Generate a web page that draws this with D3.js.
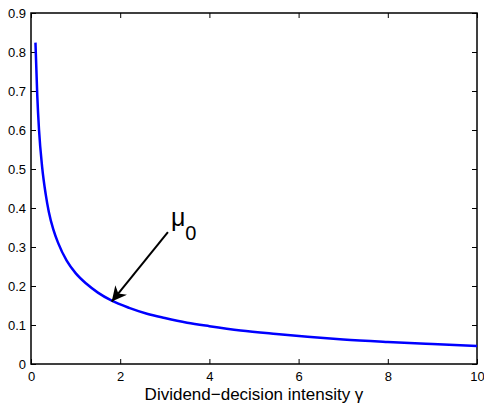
<!DOCTYPE html>
<html>
<head>
<meta charset="utf-8">
<script src="https://cdn.jsdelivr.net/npm/d3@7"></script>
<style>
    body { margin: 0; background: #fff; }
    text { font-family: "Liberation Sans", Arial, sans-serif; fill: #000; }
</style>
</head>
<body>
<div id="chart"></div>
<script>
// values
const gammaValues = [0.1, 0.14, 0.18, 0.25, 0.33, 0.4, 0.5, 0.61, 0.8, 1.0, 1.25, 1.5, 1.8, 2.2, 2.6, 3, 3.5, 4, 4.7, 5.5, 6.2, 7, 8, 9, 10];
const muValues = [0.824, 0.69, 0.6, 0.505, 0.435, 0.39, 0.345, 0.31, 0.265, 0.233, 0.205, 0.183, 0.163, 0.144, 0.129, 0.118, 0.106, 0.097, 0.086, 0.077, 0.07, 0.063, 0.0565, 0.051, 0.046];
const xTicks = [0, 2, 4, 6, 8, 10];
const yTicks = [0, 0.1, 0.2, 0.3, 0.4, 0.5, 0.6, 0.7, 0.8, 0.9];
const arrowFrom = [3.07, 0.338];
const arrowTo = [1.81, 0.16];

const width = 484, height = 404;
const margin = {top: 13, right: 7, bottom: 40, left: 31};

const svg = d3.select("#chart").append("svg")
    .attr("width", width)
    .attr("height", height);

const x = d3.scaleLinear().domain([0, 10]).range([margin.left, width - margin.right]);
const y = d3.scaleLinear().domain([0, 0.9]).range([height - margin.bottom, margin.top]);

// ticks inside the box on all four sides
const tickLen = 5;
function styleAxis(g) {
    g.select(".domain").remove();
    g.selectAll(".tick line").attr("stroke", "#000").attr("stroke-width", 1);
    g.selectAll(".tick text").attr("font-size", 13);
}

svg.append("g")
    .attr("transform", `translate(0,${y(0)})`)
    .call(d3.axisBottom(x).tickValues(xTicks).tickSize(-tickLen).tickPadding(8).tickFormat(d3.format("d")))
    .call(styleAxis);
svg.append("g")
    .attr("transform", `translate(0,${y(0.9)})`)
    .call(d3.axisTop(x).tickValues(xTicks).tickSize(-tickLen).tickFormat(""))
    .call(styleAxis);
svg.append("g")
    .attr("transform", `translate(${x(0)},0)`)
    .call(d3.axisLeft(y).tickValues(yTicks).tickSize(-tickLen).tickPadding(5).tickFormat(d => d === 0 ? "0" : d3.format(".1f")(d)))
    .call(styleAxis);
svg.append("g")
    .attr("transform", `translate(${x(10)},0)`)
    .call(d3.axisRight(y).tickValues(yTicks).tickSize(-tickLen).tickFormat(""))
    .call(styleAxis);

svg.append("rect")
    .attr("x", x(0))
    .attr("y", y(0.9))
    .attr("width", x(10) - x(0))
    .attr("height", y(0) - y(0.9))
    .attr("fill", "none")
    .attr("stroke", "#000")
    .attr("stroke-width", 1.5);

const line = d3.line()
    .x((d, i) => x(gammaValues[i]))
    .y(d => y(d))
    .curve(d3.curveMonotoneX);

svg.append("path")
    .datum(muValues)
    .attr("d", line)
    .attr("fill", "none")
    .attr("stroke", "#0000ff")
    .attr("stroke-width", 2.5);

// annotation arrow
svg.append("defs").append("marker")
    .attr("id", "head")
    .attr("viewBox", "0 0 10 10")
    .attr("refX", 10)
    .attr("refY", 5)
    .attr("markerWidth", 15)
    .attr("markerHeight", 15)
    .attr("markerUnits", "userSpaceOnUse")
    .attr("orient", "auto")
    .append("path")
    .attr("d", "M0,0 L10,5 L0,10 L3,5 Z")
    .attr("fill", "#000");

svg.append("line")
    .attr("x1", x(arrowFrom[0]))
    .attr("y1", y(arrowFrom[1]))
    .attr("x2", x(arrowTo[0]))
    .attr("y2", y(arrowTo[1]))
    .attr("stroke", "#000")
    .attr("stroke-width", 2)
    .attr("marker-end", "url(#head)");

const label = svg.append("text")
    .attr("x", x(arrowFrom[0]) + 3)
    .attr("y", 226);
label.append("tspan").attr("font-size", 25).text("μ");
label.append("tspan").attr("font-size", 20).attr("dy", 13.5).text("0");

svg.append("text")
    .attr("x", (x(0) + x(10)) / 2)
    .attr("y", 400)
    .attr("text-anchor", "middle")
    .attr("font-size", 17)
    .text("Dividend−decision intensity γ");
</script>
</body>
</html>
